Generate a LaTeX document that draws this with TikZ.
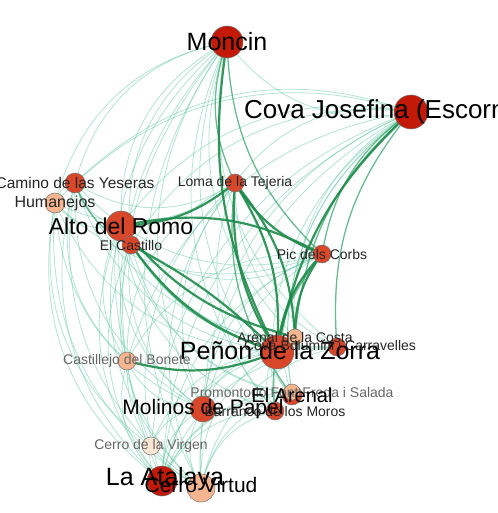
\documentclass[tikz,border=0pt]{standalone}
\usepackage{fontspec}
\setmainfont{Liberation Sans}
\usetikzlibrary{positioning,backgrounds}

\definecolor{siteRed}{HTML}{D9472B}
\definecolor{siteDark}{HTML}{C31A08}
\definecolor{sitePeach}{HTML}{F5B58E}
\definecolor{sitePale}{HTML}{FBE6D3}
\definecolor{linkStrong}{HTML}{1E8B4C}
\definecolor{linkWeak}{HTML}{62C6A2}

\begin{document}
\begin{tikzpicture}[
    x=1pt, y=-1pt,
    site/.style={
        circle,
        draw=black!55,
        line width=0.5pt,
        inner sep=0pt,
        minimum size=#1
    },
    bigLabel/.style={
        font=\fontsize{23pt}{23pt}\selectfont,
        text=black,
        inner sep=0pt
    },
    smallLabel/.style={
        font=\fontsize{14pt}{14pt}\selectfont,
        text=black!85,
        inner sep=0pt
    },
    greyLabel/.style={
        font=\fontsize{14pt}{14pt}\selectfont,
        text=black!60,
        inner sep=0pt
    },
    weakLink/.style={
        draw=linkWeak,
        opacity=0.5,
        line width=0.75pt
    },
    midLink/.style={
        draw=linkStrong!60!linkWeak,
        opacity=0.75,
        line width=1.3pt
    },
    strongLink/.style={
        draw=linkStrong,
        opacity=0.9,
        line width=2.2pt
    }
]
\useasboundingbox (0,0) rectangle (497,513);
\clip (0,0) rectangle (497,513);

% ==================== SITES ====================
\node[site=32pt, fill=siteDark] (mo) at (227, 42) {};
\node[site=34pt, fill=siteDark] (cj) at (411, 112) {};
\node[site=20pt, fill=siteRed] (cy) at (75, 183) {};
\node[site=20pt, fill=sitePeach] (hu) at (55, 203) {};
\node[site=30pt, fill=siteRed] (ar) at (121, 226) {};
\node[site=18pt, fill=siteRed] (ec) at (131, 245) {};
\node[site=18pt, fill=siteRed] (lt) at (235, 183) {};
\node[site=18pt, fill=siteRed] (pc) at (322, 254) {};
\node[site=34pt, fill=siteRed] (pz) at (277, 352) {};
\node[site=16pt, fill=sitePeach] (ac) at (295, 337) {};
\node[site=18pt, fill=siteRed] (cc) at (337, 347) {};
\node[site=18pt, fill=sitePeach] (cb) at (127, 361) {};
\node[site=26pt, fill=siteRed] (mp) at (203, 409) {};
\node[site=20pt, fill=siteRed] (ea) at (292, 395) {};
\node[site=16pt, fill=sitePeach] (pf) at (292, 392) {};
\node[site=18pt, fill=siteRed] (bm) at (275, 411) {};
\node[site=18pt, fill=sitePale] (cg) at (151, 446) {};
\node[site=30pt, fill=siteDark] (la) at (162, 481) {};
\node[site=28pt, fill=sitePeach] (cv) at (201, 488) {};

% ==================== LINKS ====================
\begin{scope}[on background layer]
\fill[white] (0,0) rectangle (497,513);
\foreach \a/\b in {mo/cy, mo/hu, mo/ar, mo/ec, mo/mp, mo/la, mo/cv, mo/cb, mo/cj, mo/ac, mo/bm, mo/cc, mo/cg, mo/ea,
                   cj/cy, cj/hu, cj/ar, cj/ec, cj/lt, cj/mp, cj/la, cj/cv, cj/pf, cj/ac, cj/bm, cj/cg, cj/cb, cj/ea,
                   cy/hu, cy/ar, cy/lt, cy/pz, cy/la, cy/mp, cy/cb, cy/pc, cy/cv, cy/cc,
                   hu/ar, hu/lt, hu/pz, hu/la, hu/mp, hu/pc, hu/cv, hu/cg,
                   ar/mp, ar/la, ar/cv, ar/cb, ar/cc, ar/ea, ar/bm,
                   ec/pc, ec/la, ec/mp, ec/cc, ec/cv, ec/ea,
                   lt/mp, lt/la, lt/cv, lt/cc, lt/bm, lt/cb,
                   pc/mp, pc/la, pc/cv, pc/ea, pc/cb,
                   pz/la, pz/cv, pz/cg, pz/mp, pz/ea, pz/bm,
                   mp/la, mp/cv, mp/cg, cb/la, cg/la, cb/mp, cb/cv,
                   ea/la, ea/cv, bm/la, bm/cv, cc/la, ac/la, cc/cv, pf/la}
    \draw[weakLink] (\a.center) to[bend right=32] (\b.center);
\foreach \a/\b in {mo/lt, mo/pc, cj/pc, ar/pz, cy/ec, lt/ea, pc/bm, cj/cc, cj/ac}
    \draw[midLink] (\a.center) to[bend right=22] (\b.center);
\foreach \a/\b in {pz/lt, lt/pz, ec/pz, lt/pc, pc/pz, ar/lt, cb/pz, mo/pz, cj/pz, ac/lt, pc/ac, ar/ac}
    \draw[strongLink] (\a.center) to[bend right=18] (\b.center);
\draw[strongLink] (ar.center) to[bend left=20] (pc.center);
\draw[strongLink] (ec.center) to[bend left=8] (pz.center);
\end{scope}

% ==================== LABELS ====================
\node[bigLabel, font=\fontsize{25pt}{25pt}\selectfont] (moText) at (mo) {Moncin};
\node[bigLabel, font=\fontsize{26pt}{26pt}\selectfont] (cjText) at (cj) {Cova Josefina (Escornalbou)};
\node[smallLabel, font=\fontsize{15.5pt}{15.5pt}\selectfont] (cyText) at (cy) {Camino de las Yeseras};
\node[smallLabel, font=\fontsize{16pt}{16pt}\selectfont] (huText) at (hu) {Humanejos};
\node[bigLabel] (arText) at (ar) {Alto del Romo};
\node[smallLabel] (ecText) at (ec) {El Castillo};
\node[smallLabel] (ltText) at (lt) {Loma de la Tejeria};
\node[smallLabel] (pcText) at (pc) {Pic dels Corbs};
\node[bigLabel, font=\fontsize{25pt}{25pt}\selectfont] (pzText) at (280, 351) {Peñon de la Zorra};
\node[smallLabel] (acText) at (ac) {Arenal de la Costa};
\node[smallLabel] (ccText) at (330, 345) {Cova Bolumini i Carravelles};
\node[greyLabel] (cbText) at (cb) {Castillejo del Bonete};
\node[greyLabel] (pfText) at (pf) {Promontorio Font Freda i Salada};
\node[bigLabel, font=\fontsize{20pt}{20pt}\selectfont] (eaText) at (ea) {El Arenal};
\node[bigLabel, font=\fontsize{21pt}{21pt}\selectfont] (mpText) at (mp) {Molinos de Papel};
\node[smallLabel] (bmText) at (bm) {Barranco de los Moros};
\node[greyLabel] (cgText) at (cg) {Cerro de la Virgen};
\node[bigLabel, font=\fontsize{25pt}{25pt}\selectfont] (laText) at (165, 479) {La Atalaya};
\node[bigLabel, font=\fontsize{21pt}{21pt}\selectfont] (cvText) at (201, 485) {Cerro Virtud};

\end{tikzpicture}
\end{document}
